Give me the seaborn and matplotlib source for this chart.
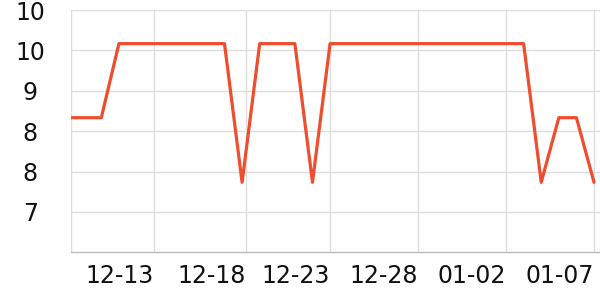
import matplotlib
matplotlib.use("Agg")
import matplotlib.pyplot as plt
import seaborn as sns
import pandas as pd
import numpy as np

dates = ["12-08", "12-09", "12-10", "12-11", "12-12", "12-13", "12-14", "12-15",
         "12-16", "12-17", "12-18", "12-19", "12-20", "12-21", "12-22", "12-23",
         "12-24", "12-25", "12-26", "12-27", "12-28", "12-29", "12-30", "12-31",
         "01-01", "01-02", "01-03", "01-04", "01-05", "01-06", "01-07"]
values = [8.6, 8.6, 8.6, 9.7, 9.7, 9.7, 9.7, 9.7, 9.7, 9.7,
          7.64, 9.7, 9.7, 9.7, 7.64,
          9.7, 9.7, 9.7, 9.7, 9.7, 9.7, 9.7, 9.7, 9.7, 9.7, 9.7, 9.7,
          7.64, 8.6, 8.6, 7.64]
xtick_labels = ["12-13", "12-18", "12-23", "12-28", "01-02", "01-07"]
xtick_pos = [5, 10.2, 15, 20, 25, 30]
ytick_vals = [10.2, 9.6, 9.0, 8.4, 7.8, 7.2]
ytick_labels = ["10", "10", "9", "8", "8", "7"]

df = pd.DataFrame({"idx": np.arange(len(values)), "value": values, "date": dates})

sns.set_style("white")
plt.rcParams['font.family'] = ['DejaVu Sans']

fig = plt.figure(figsize=(6, 3), dpi=100)
ax = fig.add_axes([70.7 / 600, (300 - 252.3) / 300, (600 - 70.7) / 600, (252.3 - 10) / 300])

sns.lineplot(data=df, x="idx", y="value", ax=ax, color="#EE4D2E", linewidth=2.3)

ax.set_xlim(0.26, 30.34)
ax.set_ylim(6.6, 10.2)

ax.set_xticks([0.26] + xtick_pos)
ax.set_xticklabels([""] + xtick_labels, ha="right")
ax.set_yticks(ytick_vals)
ax.set_yticklabels(ytick_labels)
for lab in ax.get_yticklabels():
    lab.set_ha("center")

ax.grid(True, color="#dddddd", linewidth=1)
ax.set_axisbelow(True)
ax.set_xlabel("")
ax.set_ylabel("")

for s in ["top", "right", "left"]:
    ax.spines[s].set_visible(False)
ax.spines["bottom"].set_color("#bbbbbb")
ax.spines["bottom"].set_linewidth(1)

ax.tick_params(axis="x", length=3, width=1, color="#cccccc", pad=5.5, labelsize=17, labelcolor="#111111")
ax.tick_params(axis="y", length=2.5, width=1, color="#cccccc", pad=26.5, labelsize=17, labelcolor="#111111")

fig.savefig("out.png", dpi=100)
